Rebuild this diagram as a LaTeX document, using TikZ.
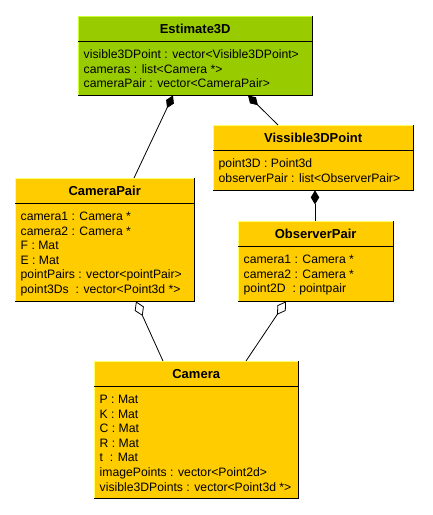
\documentclass[tikz,border=0pt]{standalone}
\usepackage{fontspec}
\setmainfont{Liberation Sans}
\usetikzlibrary{arrows.meta}
\definecolor{cgreen}{HTML}{99CC00}
\definecolor{cyellow}{HTML}{FFCC00}
\definecolor{lgreen}{HTML}{CCFF33}
\definecolor{lyellow}{HTML}{FFFF66}
\tikzset{
  classbody/.style={rectangle, inner sep=0pt, anchor=north west},
  titletext/.style={inner sep=0pt, font=\fontsize{13}{15}\selectfont\bfseries},
  attrtext/.style={inner sep=0pt, anchor=base west, font=\fontsize{12.2}{14.6}\selectfont},
  conn/.style={line width=0.8pt},
  compo/.style={conn, -{Diamond[length=14pt,width=8.5pt,fill=black]}},
  aggr/.style={conn, -{Diamond[length=16pt,width=10pt,open,fill=white]}}
}
% #1 name, #2 x, #3 y, #4 w, #5 h, #6 title, #7 fill, #8 light border, #9 lines
\newcommand\umlclassbox[9]{%
  \node[classbody, fill=#7, minimum width=#4pt, minimum height=#5pt] (#1) at (#2,#3) {};
  \draw[#8, line width=1pt] (#1.south west) -- (#1.north west) -- (#1.north east);
  \draw[black, line width=1pt] (#1.north east) -- (#1.south east) -- (#1.south west);
  \draw[black, line width=1pt] ([yshift=-25.5pt]#1.north west) -- ([yshift=-25.5pt]#1.north east);
  \node[titletext] (#1-title) at ([yshift=-12.9pt]#1.north) {#6};
  \foreach \t [count=\i, evaluate=\i as \yy using 42.5+(\i-1)*14.6] in {#9}{
    \node[attrtext] (#1-l\i) at ([xshift=5.5pt,yshift=-\yy pt]#1.north west) {\t};
  }%
}
\begin{document}
\begin{tikzpicture}[x=1pt,y=-1pt]
\useasboundingbox (0,0) rectangle (433,515);
\fill[white] (0,0) rectangle (433,515);

\umlclassbox{e3d}{78}{16}{234}{79}{Estimate3D}{cgreen}{lgreen}{%
  visible3DPoint : vector<Visible3DPoint>,
  cameras : list<Camera *>,
  cameraPair : vector<CameraPair>}
\umlclassbox{vis}{213}{125}{200}{65}{Vissible3DPoint}{cyellow}{lyellow}{%
  point3D : Point3d,
  observerPair : list<ObserverPair>}
\umlclassbox{cp}{15}{178}{179}{123}{CameraPair}{cyellow}{lyellow}{%
  camera1 : Camera *,
  camera2 : Camera *,
  F : Mat,
  E : Mat,
  pointPairs : vector<pointPair>,
  point3Ds \ : vector<Point3d *>}
\umlclassbox{op}{238}{221}{155}{80}{ObserverPair}{cyellow}{lyellow}{%
  camera1 : Camera *,
  camera2 : Camera *,
  point2D \ : pointpair}
\umlclassbox{cam}{94}{361}{204}{137}{Camera}{cyellow}{lyellow}{%
  P : Mat,
  K : Mat,
  C : Mat,
  R : Mat,
  t \ : Mat,
  imagePoints : vector<Point2d>,
  visible3DPoints : vector<Point3d *>}

\draw[compo] ([xshift=119pt]cp.north west) -- ([xshift=95pt]e3d.south west);
\draw[compo] ([xshift=65pt]vis.north west) -- ([xshift=170pt]e3d.south west);
\draw[compo] ([xshift=77pt]op.north west) -- ([xshift=102pt]vis.south west);
\draw[aggr] ([xshift=69pt]cam.north west) -- ([xshift=121pt]cp.south west);
\draw[aggr] ([xshift=152pt]cam.north west) -- ([xshift=48pt]op.south west);
\end{tikzpicture}
\end{document}
